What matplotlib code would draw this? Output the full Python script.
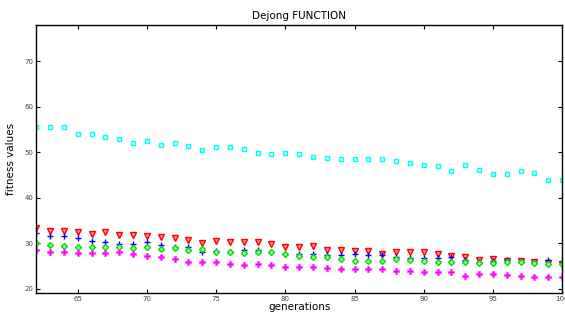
import matplotlib
matplotlib.use("Agg")
import matplotlib.pyplot as plt
import numpy as np

generations = list(range(62, 101))

cyan_vals = [55.6, 55.6, 55.6, 53.9, 54.1, 53.3, 53.0, 52.0, 52.4, 51.6,
             52.0, 51.4, 50.4, 51.1, 51.1, 50.6, 49.8, 49.6, 49.8, 49.5,
             48.9, 48.7, 48.4, 48.4, 48.6, 48.4, 48.0, 47.6, 47.3, 47.0,
             45.9, 47.2, 46.2, 45.2, 45.2, 45.9, 45.5, 44.0, 43.9]

red_vals = [33.3, 32.7, 32.8, 32.4, 32.0, 32.4, 31.8, 31.8, 31.6, 31.3,
            31.2, 30.7, 30.0, 30.5, 30.4, 30.4, 30.3, 29.9, 29.1, 29.1,
            29.4, 28.6, 28.6, 28.4, 28.3, 27.7, 28.0, 28.0, 28.0, 27.7,
            27.3, 27.0, 26.4, 26.6, 26.1, 26.1, 25.8, 25.6, 25.4]

blue_vals = [32.2, 31.7, 31.7, 31.1, 30.6, 30.3, 29.8, 29.9, 30.3, 29.6,
             29.2, 29.3, 28.2, 28.4, 28.2, 28.6, 28.6, 28.2, 27.7, 27.6,
             27.7, 27.5, 27.5, 27.7, 27.5, 27.5, 27.1, 26.7, 26.7, 26.7,
             27.0, 26.4, 25.9, 26.2, 26.4, 26.2, 26.0, 26.4, 25.9]

green_vals = [30.0, 29.6, 29.4, 29.1, 29.1, 29.3, 29.1, 28.9, 29.1, 28.8,
              28.9, 28.6, 28.7, 28.2, 28.0, 27.8, 28.0, 28.0, 27.7, 27.2,
              27.1, 27.0, 26.5, 26.2, 26.2, 26.2, 26.6, 26.4, 26.1, 26.0,
              25.8, 26.0, 25.6, 25.6, 26.0, 26.0, 25.6, 25.5, 25.5]

magenta_vals = [28.6, 28.0, 28.0, 27.9, 27.9, 27.8, 28.0, 27.7, 27.2, 27.1,
                26.5, 26.0, 26.0, 26.0, 25.4, 25.3, 25.5, 25.3, 24.8, 24.7,
                24.9, 24.5, 24.4, 24.3, 24.3, 24.4, 24.0, 23.9, 23.7, 23.8,
                23.6, 22.9, 23.3, 23.3, 23.1, 22.9, 22.7, 22.5, 22.5]

fig = plt.figure(figsize=(5.65, 3.2), dpi=100)
ax = fig.add_axes([0.064, 0.083, 0.931, 0.84])

ax.plot(generations, cyan_vals, linestyle="none", marker="s", ms=3.2,
        mfc="#e0ffff", mec="#00ffff", mew=1.0)
ax.plot(generations, red_vals, linestyle="none", marker="v", ms=4.2,
        mfc="#ff9090", mec="#ff0000", mew=1.0)
ax.plot(generations, blue_vals, linestyle="none", marker="+", ms=4.5,
        mec="#0000ff", mew=1.0)
ax.plot(generations, green_vals, linestyle="none", marker="D", ms=3.0,
        mfc="#a0ffa0", mec="#00dd00", mew=1.0)
ax.plot(generations, magenta_vals, linestyle="none", marker="P", ms=3.8,
        mfc="#ff00ff", mec="#ff40ff", mew=0.5)

ax.set_xlim(62, 100)
ax.set_ylim(19, 78)
ax.set_xticks([65, 70, 75, 80, 85, 90, 95, 100])
ax.set_yticks([20, 30, 40, 50, 60, 70])
ax.tick_params(direction="in", top=True, right=True, length=3, width=0.8,
               labelsize=5, labelcolor="#444444", pad=2)
for s in ax.spines.values():
    s.set_linewidth(1.0)

ax.set_title("Dejong FUNCTION", fontsize=7.5, pad=4)
ax.set_xlabel("generations", fontsize=7.5, labelpad=0)
ax.set_ylabel("fitness values", fontsize=7.5, labelpad=6)

fig.savefig("out.png", dpi=100)
